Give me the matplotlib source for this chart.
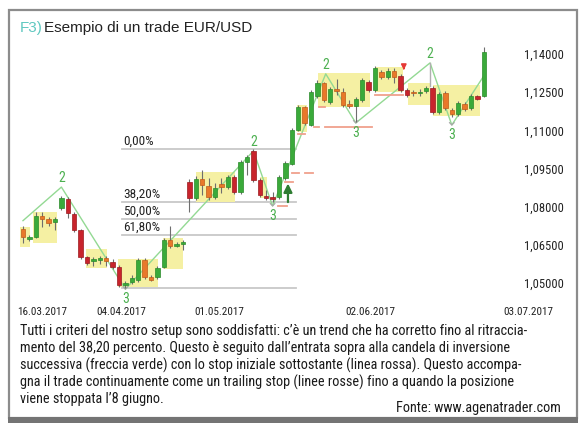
import matplotlib
matplotlib.use("Agg")
import matplotlib.pyplot as plt
from matplotlib import font_manager
from matplotlib.patches import Rectangle

# ---- EUR/USD daily candles ----
opens  = [1.0712, 1.0673, 1.0681, 1.0763, 1.0752, 1.0740, 1.0795, 1.0830, 1.0771, 1.0708,
          1.0602, 1.0587, 1.0592, 1.0598, 1.0583, 1.0563, 1.0492, 1.0504, 1.0512, 1.0590,
          1.0524, 1.0524, 1.0563, 1.0669, 1.0647, 1.0653, 1.0897, 1.0834, 1.0909, 1.0881,
          1.0838, 1.0889, 1.0877, 1.0917, 1.0858, 1.0976, 1.1019, 1.0905, 1.0842, 1.0838,
          1.0838, 1.0913, 1.0968, 1.1101, 1.1192, 1.1121, 1.1235, 1.1286, 1.1211, 1.1262,
          1.1251, 1.1204, 1.1196, 1.1219, 1.1290, 1.1259, 1.1329, 1.1310, 1.1333, 1.1314,
          1.1259, 1.1251, 1.1247, 1.1255, 1.1266, 1.1172, 1.1247, 1.1180, 1.1164, 1.1204,
          1.1188, 1.1235, 1.1235]
highs  = [1.0724, 1.0689, 1.0779, 1.0779, 1.0759, 1.0759, 1.0842, 1.0838, 1.0779, 1.0712,
          1.0606, 1.0602, 1.0606, 1.0606, 1.0594, 1.0571, 1.0508, 1.0531, 1.0598, 1.0598,
          1.0531, 1.0567, 1.0677, 1.0724, 1.0661, 1.0669, 1.0909, 1.0921, 1.0944, 1.0913,
          1.0893, 1.0913, 1.0925, 1.0925, 1.0983, 1.1003, 1.1027, 1.0913, 1.0866, 1.0858,
          1.0925, 1.0979, 1.1109, 1.1200, 1.1196, 1.1259, 1.1298, 1.1290, 1.1270, 1.1302,
          1.1266, 1.1219, 1.1231, 1.1306, 1.1298, 1.1353, 1.1337, 1.1345, 1.1345, 1.1321,
          1.1266, 1.1259, 1.1262, 1.1274, 1.1274, 1.1251, 1.1255, 1.1188, 1.1215, 1.1211,
          1.1243, 1.1239, 1.1428]
lows   = [1.0657, 1.0665, 1.0677, 1.0720, 1.0724, 1.0708, 1.0787, 1.0755, 1.0700, 1.0594,
          1.0571, 1.0567, 1.0575, 1.0567, 1.0555, 1.0484, 1.0479, 1.0496, 1.0504, 1.0516,
          1.0508, 1.0516, 1.0559, 1.0638, 1.0641, 1.0630, 1.0779, 1.0826, 1.0846, 1.0826,
          1.0830, 1.0854, 1.0869, 1.0850, 1.0850, 1.0925, 1.0897, 1.0838, 1.0826, 1.0818,
          1.0830, 1.0905, 1.0964, 1.1097, 1.1121, 1.1117, 1.1227, 1.1211, 1.1204, 1.1239,
          1.1192, 1.1188, 1.1133, 1.1211, 1.1251, 1.1251, 1.1302, 1.1302, 1.1286, 1.1251,
          1.1231, 1.1235, 1.1235, 1.1247, 1.1164, 1.1164, 1.1180, 1.1152, 1.1156, 1.1176,
          1.1180, 1.1219, 1.1231]
closes = [1.0681, 1.0681, 1.0763, 1.0752, 1.0736, 1.0752, 1.0834, 1.0775, 1.0708, 1.0602,
          1.0579, 1.0594, 1.0594, 1.0587, 1.0563, 1.0492, 1.0500, 1.0520, 1.0590, 1.0524,
          1.0512, 1.0559, 1.0669, 1.0645, 1.0649, 1.0661, 1.0834, 1.0909, 1.0885, 1.0838,
          1.0873, 1.0877, 1.0917, 1.0858, 1.0976, 1.0995, 1.0905, 1.0846, 1.0834, 1.0830,
          1.0917, 1.0972, 1.1101, 1.1192, 1.1129, 1.1251, 1.1286, 1.1219, 1.1262, 1.1255,
          1.1200, 1.1196, 1.1223, 1.1298, 1.1259, 1.1345, 1.1310, 1.1333, 1.1310, 1.1259,
          1.1239, 1.1247, 1.1251, 1.1266, 1.1172, 1.1243, 1.1188, 1.1164, 1.1207, 1.1184,
          1.1235, 1.1223, 1.1408]
# bars flagged as inside bars (drawn in orange when they close lower)
inside_bars = [0, 3, 4, 13, 19, 20, 23, 28, 29, 31, 44, 47, 49, 50, 51, 56, 58, 61,
               66, 67, 69]

date_labels = ["16.03.2017", "04.04.2017", "01.05.2017", "02.06.2017", "03.07.2017"]
date_pos = [3.0, 15.3, 30.6, 54.2, 78.9]
price_ticks = [1.14, 1.125, 1.11, 1.095, 1.08, 1.065, 1.05]

# Fibonacci retracement of the swing low (bar 16) -> swing high (bar 36)
fib_low_bar, fib_high_bar = 16, 36
fib_ratios = [0.0, 0.382, 0.5, 0.618, 1.0]
fib_names = ["0,00%", "38,20%", "50,00%", "61,80%", ""]
fib_span = (15.5, 42.7)

# 1-2-3 swing structure
swing_x = [0.0, 6.0, 16.0, 36.0, 39.0, 47.3, 52.0, 63.6, 67.0, 72.0]
swing_y = [1.0745, 1.0877, 1.0476, 1.1019, 1.0803, 1.1322, 1.1129, 1.1365, 1.1121, 1.1314]
swing_tags = ["", "2", "3", "2", "3", "2", "3", "2", "3", ""]

# consolidation zones: first bar, last bar, bottom, top
zone_x0 = [-0.47, 1.56, 9.84, 14.8, 21.9, 27.0, 37.0, 42.8, 46.1, 55.0, 60.2, 64.1]
zone_x1 = [1.09, 5.31, 13.1, 21.1, 25.0, 33.1, 38.1, 44.4, 54.2, 59.4, 63.6, 71.4]
zone_lo = [1.0642, 1.0657, 1.0559, 1.0484, 1.0555, 1.0818, 1.0834, 1.1093, 1.1192, 1.1251, 1.1200, 1.1156]
zone_hi = [1.0720, 1.0779, 1.0634, 1.0594, 1.0677, 1.0936, 1.0917, 1.1200, 1.1325, 1.1349, 1.1286, 1.1278]

# initial and trailing stops: first bar, last bar, level
stop_x0 = [39.8, 41.0, 42.0, 44.0, 43.0, 45.5, 46.3, 47.2, 55.0]
stop_x1 = [41.2, 42.2, 43.1, 45.3, 44.1, 46.3, 47.2, 54.6, 59.4]
stop_lv = [1.0803, 1.0897, 1.0932, 1.0932, 1.1086, 1.1113, 1.1192, 1.1113, 1.1239]

entry_bar, entry_price = 41.4, 1.0807
exit_bar, exit_price = 59.5, 1.1359

# ---- fonts ----
installed = {f.name for f in font_manager.fontManager.ttflist}
def pick(*names):
    for n in names:
        if n in installed:
            return n
    return "DejaVu Sans"
narrow = pick("Liberation Sans Narrow", "Roboto Condensed", "DejaVu Sans")
regular = pick("Liberation Sans", "Noto Sans", "DejaVu Sans")

W, H = 584, 428
fig = plt.figure(figsize=(W / 100, H / 100), dpi=100)
fig.patch.set_facecolor("white")

def fx(px):
    return px / W
def fy(py):
    return 1 - py / H

# outer frame
fig.add_artist(Rectangle((fx(9), fy(418)), fx(577) - fx(9), fy(10) - fy(418),
                         transform=fig.transFigure, fill=False, ec="#8c8c8c", lw=1.6))
fig.add_artist(Rectangle((fx(8), fy(423)), fx(578) - fx(8), fy(417) - fy(423),
                         transform=fig.transFigure, fc="#747474", ec="none"))

# title
fig.text(fx(20), fy(28), "F3)", color="#5fc8c0", fontsize=11, family=regular, va="center")
fig.text(fx(44), fy(28), "Esempio di un trade EUR/USD", color="#222222", fontsize=11,
         family=regular, va="center")

ax = fig.add_axes([fx(15), fy(292), fx(500) - fx(15), fy(40) - fy(292)])
ax.set_xlim(-1.25, 74.53)
ax.set_ylim(1.04646, 1.14550)
for s in ax.spines.values():
    s.set_visible(False)
ax.set_xticks([])
ax.yaxis.tick_right()
ax.set_yticks(price_ticks)
ax.set_yticklabels([f"{v:.5f}".replace(".", ",") for v in price_ticks])
ax.tick_params(axis="y", length=0, pad=17, labelsize=9, labelcolor="#222222")
for lab in ax.get_yticklabels():
    lab.set_family(narrow)

# consolidation zones
for x0, x1, lo, hi in zip(zone_x0, zone_x1, zone_lo, zone_hi):
    ax.add_patch(Rectangle((x0, lo), x1 - x0, hi - lo, fc="#f5f0a3", ec="none", zorder=1))

# Fibonacci levels
hi_p, lo_p = highs[fib_high_bar], lows[fib_low_bar]
for r, name in zip(fib_ratios, fib_names):
    lv = hi_p - r * (hi_p - lo_p)
    ax.plot(fib_span, [lv, lv], color="#c8c8c8", lw=1.3, zorder=0.5)
    if name:
        ax.text(fib_span[0] + 0.2, lv + 0.0004, name, fontsize=9.5, family=narrow,
                color="#222222", va="bottom", ha="left")

# swing lines and labels
ax.plot(swing_x, swing_y, color="#93d993", lw=1.0, zorder=2)
ax.plot([swing_x[7], swing_x[7]], [swing_y[7], highs[63]], color="#b0b0b0", lw=1.0, zorder=2)
for x, y, t in zip(swing_x, swing_y, swing_tags):
    if t == "2":
        ax.text(x, y + 0.0008, t, color="#4cb050", fontsize=10, family=narrow,
                ha="center", va="bottom", zorder=5)
    elif t == "3":
        ax.text(x, y - 0.0012, t, color="#4cb050", fontsize=10, family=narrow,
                ha="center", va="top", zorder=5)
        ax.plot([x - 0.35, x, x + 0.35], [y + 0.0009, y, y + 0.0009], color="#a8a8a8",
                lw=0.9, zorder=2.2)

# stops
for x0, x1, lv in zip(stop_x0, stop_x1, stop_lv):
    ax.plot([x0, x1], [lv, lv], color="#f0a08c", lw=1.3, zorder=2.5)

# candles
w = 0.7
for i, (o, h, l, c) in enumerate(zip(opens, highs, lows, closes)):
    ax.vlines(i, l, h, color="#6e6e6e", lw=0.8, zorder=3)
    if c >= o:
        col, ec = "#3aaa3a", "#2a8a2a"
    elif i in inside_bars:
        col, ec = "#e8782a", "#c05a18"
    else:
        col, ec = "#c8242c", "#9a1a1f"
    bot = min(o, c)
    ht = max(abs(c - o), 0.0005)
    ax.add_patch(Rectangle((i - w / 2, bot), w, ht, fc=col, ec=ec, lw=0.5, zorder=4))

# entry / exit arrows
ax.annotate("", xy=(entry_bar, entry_price + 0.0095), xytext=(entry_bar, entry_price),
            arrowprops=dict(arrowstyle="-|>,head_width=0.25,head_length=0.5",
                            color="#2e7d32", lw=1.6), zorder=6)
ax.annotate("", xy=(exit_bar, exit_price - 0.0033), xytext=(exit_bar, exit_price),
            arrowprops=dict(arrowstyle="-|>,head_width=0.15,head_length=0.3",
                            color="#e53935", lw=1.2), zorder=6)

# date labels
for p, t in zip(date_pos, date_labels):
    ax.text(p, -0.079, t, transform=ax.get_xaxis_transform(), ha="center", va="center",
            fontsize=8, family=narrow, color="#222222", clip_on=False)

# caption
caption = [
    "Tutti i criteri del nostro setup sono soddisfatti: c’è un trend che ha corretto fino al ritraccia-",
    "mento del 38,20 percento. Questo è seguito dall’entrata sopra alla candela di inversione",
    "successiva (freccia verde) con lo stop iniziale sottostante (linea rossa). Questo accompa-",
    "gna il trade continuamente come un trailing stop (linee rosse) fino a quando la posizione",
    "viene stoppata l’8 giugno.",
]
for k, line in enumerate(caption):
    fig.text(fx(20), fy(331 + 17 * k), line, fontsize=10.3, family=narrow,
             color="#1a1a1a", va="center", ha="left")
fig.text(fx(561), fy(408), "Fonte: www.agenatrader.com", fontsize=10.3, family=narrow,
         color="#1a1a1a", va="center", ha="right")

fig.savefig("out.png", dpi=100)
